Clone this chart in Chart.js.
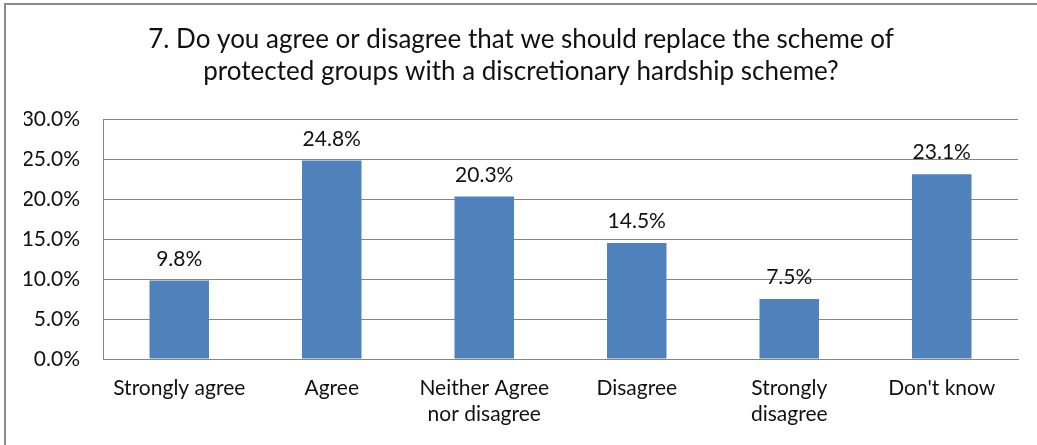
<!DOCTYPE html>
<html>
<head>
<meta charset="utf-8">
<script src="https://cdn.jsdelivr.net/npm/chart.js@4"></script>
<style>
  html, body { margin: 0; padding: 0; background: #fff; overflow: hidden; }
  #frame { position: absolute; left: 4px; top: 3px; width: 1100px; height: 500px;
           border: 2px solid #8c8c8c; box-sizing: border-box; }
  #wrap { position: absolute; left: 0; top: 0; width: 1037px; height: 445px; }
</style>
</head>
<body>
<div id="frame"></div>
<div id="wrap"><canvas id="c" width="1037" height="445"></canvas></div>
<script>
// Survey responses for question 7
const categories = [
  'Strongly agree',
  'Agree',
  ['Neither Agree', 'nor disagree'],
  'Disagree',
  ['Strongly', 'disagree'],
  "Don't know"
];
const responseShare = [9.8, 24.8, 20.3, 14.5, 7.5, 23.1];
const yTicks = [0, 5, 10, 15, 20, 25, 30];
const titleLines = [
  '7. Do you agree or disagree that we should replace the scheme of',
  'protected groups with a discretionary hardship scheme?'
];

const FONT = 'Lato, "Open Sans", sans-serif';
const TEXT = '#111111';

// Writes the value above each bar
const barValueLabels = {
  id: 'barValueLabels',
  afterDatasetsDraw(chart) {
    const ctx = chart.ctx;
    const meta = chart.getDatasetMeta(0);
    ctx.save();
    ctx.font = '21px ' + FONT;
    ctx.fillStyle = TEXT;
    ctx.textAlign = 'center';
    ctx.textBaseline = 'alphabetic';
    meta.data.forEach((bar, i) => {
      ctx.fillText(responseShare[i].toFixed(1) + '%', bar.x, bar.y - 15);
    });
    ctx.restore();
  }
};

new Chart(document.getElementById('c'), {
  type: 'bar',
  data: {
    labels: categories,
    datasets: [{
      data: responseShare,
      backgroundColor: '#4f81bd',
      borderWidth: 0,
      categoryPercentage: 1.0,
      barPercentage: 0.39
    }]
  },
  options: {
    responsive: false,
    animation: false,
    layout: { padding: { top: 0, right: 19, bottom: 0, left: 24 } },
    plugins: {
      legend: { display: false },
      tooltip: { enabled: false },
      title: {
        display: true,
        text: titleLines,
        color: TEXT,
        font: { family: FONT, size: 26, weight: 'normal', lineHeight: 32 / 26 },
        padding: { top: 24, bottom: 31 }
      }
    },
    scales: {
      x: {
        grid: { display: false, drawTicks: false },
        border: { display: true, color: '#868686', width: 1 },
        ticks: {
          color: TEXT,
          font: { family: FONT, size: 21, lineHeight: 26 / 21 },
          padding: 16,
          maxRotation: 0,
          autoSkip: false
        },
        afterFit(scale) { scale.height = 86; }
      },
      y: {
        min: 0,
        max: 30,
        afterBuildTicks(scale) { scale.ticks = yTicks.map(v => ({ value: v })); },
        grid: { color: '#868686', lineWidth: 1, drawTicks: false },
        border: { display: true, color: '#868686', width: 1 },
        ticks: {
          color: TEXT,
          font: { family: FONT, size: 21 },
          padding: 23,
          callback: v => Number(v).toFixed(1) + '%'
        },
        afterFit(scale) { scale.width = 79; }
      }
    }
  },
  plugins: [barValueLabels]
});
</script>
</body>
</html>
